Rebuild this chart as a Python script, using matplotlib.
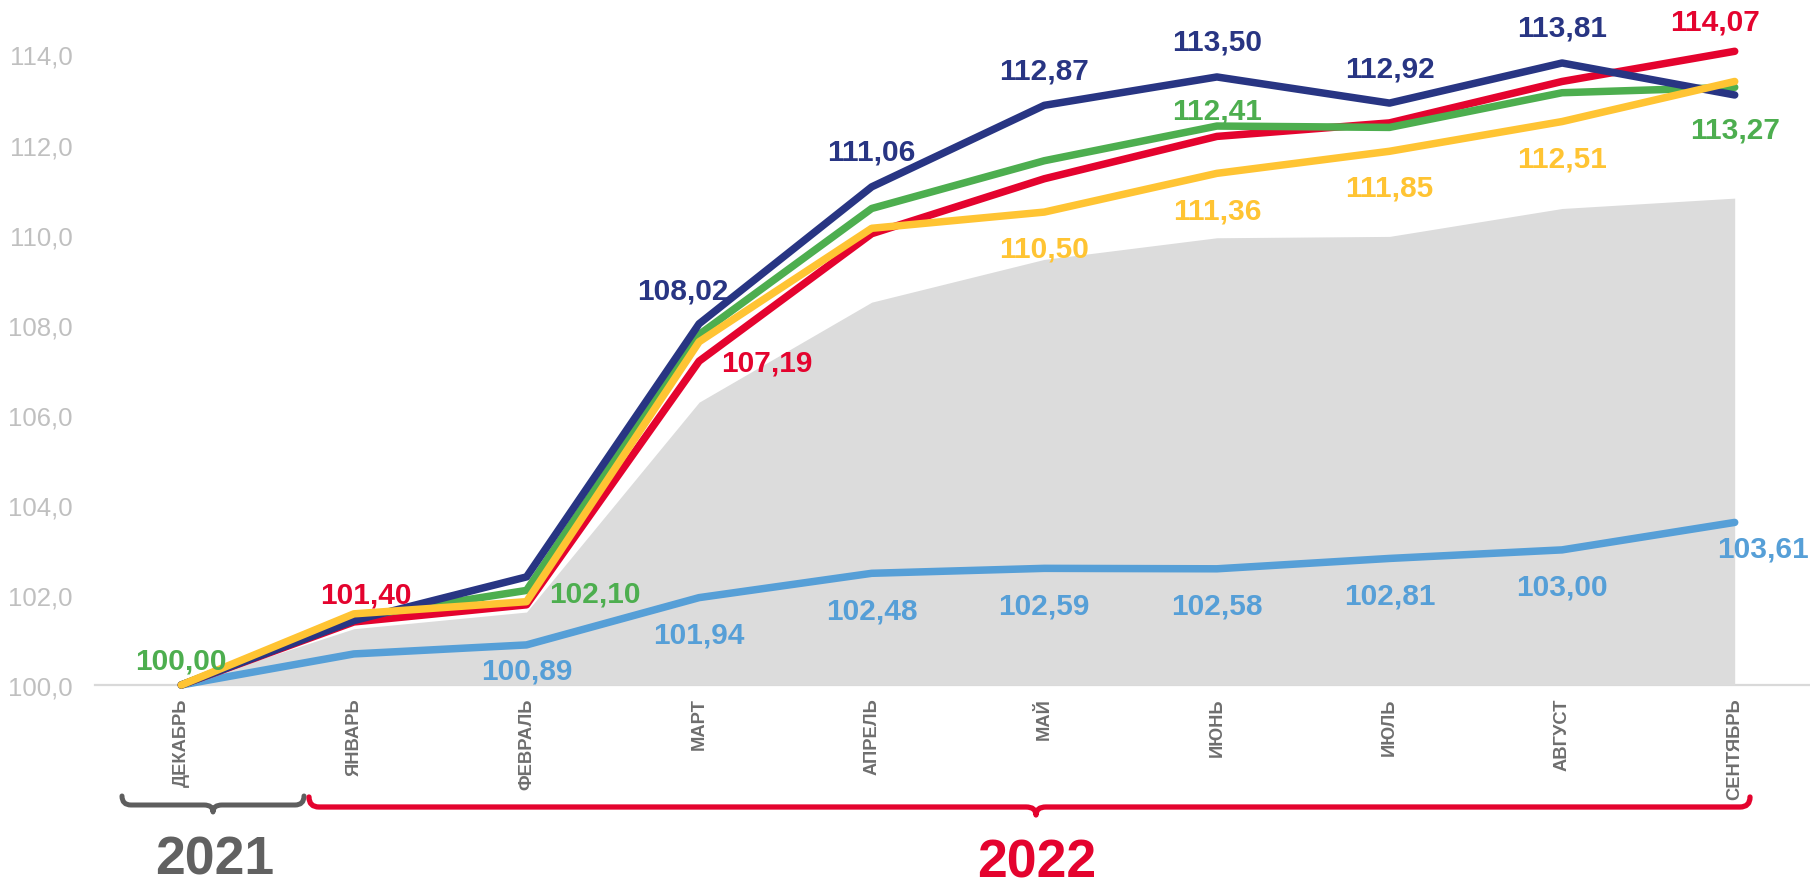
import matplotlib
matplotlib.use("Agg")
import matplotlib.pyplot as plt
from matplotlib.path import Path
from matplotlib.patches import PathPatch

# ---------------- data ----------------
months = ["ДЕКАБРЬ", "ЯНВАРЬ", "ФЕВРАЛЬ", "МАРТ", "АПРЕЛЬ", "МАЙ",
          "ИЮНЬ", "ИЮЛЬ", "АВГУСТ", "СЕНТЯБРЬ"]
navy_vals = [100.00, 101.43, 102.40, 108.02, 111.06, 112.87, 113.50, 112.92, 113.81, 113.10]
red_vals = [100.00, 101.40, 101.78, 107.19, 110.02, 111.24, 112.18, 112.48, 113.40, 114.07]
green_vals = [100.00, 101.50, 102.10, 107.78, 110.58, 111.64, 112.41, 112.38, 113.15, 113.27]
yellow_vals = [100.00, 101.58, 101.85, 107.62, 110.14, 110.50, 111.36, 111.85, 112.51, 113.40]
lblue_vals = [100.00, 100.69, 100.89, 101.94, 102.48, 102.59, 102.58, 102.81, 103.00, 103.61]
area_vals = [100.00, 101.25, 101.62, 106.28, 108.50, 109.45, 109.93, 109.96, 110.58, 110.81]
yticks = [100, 102, 104, 106, 108, 110, 112, 114]

# which points get labels, with offsets in pixels
navy_labels = {3: (-16, 33), 4: (0, 35), 5: (0, 35), 6: (0, 35), 7: (0, 35), 8: (0, 35)}
red_labels = {1: (12, 27), 3: (68, -1), 9: (-20, 30)}
green_labels = {0: (0, 24), 2: (68, -3), 6: (0, 16), 9: (0, -42)}
yellow_labels = {5: (0, -36), 6: (0, -37), 7: (0, -36), 8: (0, -37)}
lblue_labels = {2: (0, -26), 3: (0, -37), 4: (0, -37), 5: (0, -37), 6: (0, -37),
                7: (0, -37), 8: (0, -37), 9: (28, -26)}

C_NAVY = "#283583"
C_RED = "#E4032E"
C_GREEN = "#4DAE4F"
C_YELLOW = "#FFC433"
C_LBLUE = "#569FD7"
C_AREA = "#DCDCDC"

plt.rcParams["font.family"] = ["Liberation Sans", "DejaVu Sans"]

W, H = 1810, 887
fig = plt.figure(figsize=(W / 100, H / 100), dpi=100)

x0_px, y100_px = 95, 686
bin_px = 172.6
ppu = 45.04
ytop = 114.6
ax = fig.add_axes([x0_px / W, (H - y100_px) / H, 10 * bin_px / W, ((ytop - 100) * ppu) / H])
ax.set_xlim(-0.5, 9.5)
ax.set_ylim(100, ytop)

x = list(range(len(months)))
ax.fill_between(x, 100, area_vals, color=C_AREA, lw=0, zorder=1)

lw = 5.4
series = [(lblue_vals, C_LBLUE, lblue_labels),
          (red_vals, C_RED, red_labels),
          (green_vals, C_GREEN, green_labels),
          (navy_vals, C_NAVY, navy_labels),
          (yellow_vals, C_YELLOW, yellow_labels)]
for i, (vals, col, labs) in enumerate(series):
    ax.plot(x, vals, color=col, lw=lw, solid_capstyle="round",
            solid_joinstyle="round", zorder=2 + i, clip_on=False)
    for idx, (dx, dy) in labs.items():
        ax.annotate(f"{vals[idx]:.2f}".replace(".", ","), (idx, vals[idx]),
                    xytext=(dx, dy), textcoords="offset pixels",
                    ha="center", va="center", fontsize=21.5, fontweight="bold",
                    color=col, zorder=20, annotation_clip=False)

for s in ["top", "right", "left"]:
    ax.spines[s].set_visible(False)
ax.spines["bottom"].set_color("#D9D9D9")
ax.spines["bottom"].set_linewidth(1.6)
ax.spines["bottom"].set_zorder(0.5)

ax.set_yticks(yticks)
ax.set_yticklabels([f"{v:.1f}".replace(".", ",") for v in yticks])
ax.tick_params(axis="y", length=0, pad=16, labelsize=18.5, labelcolor="#C0C0C0")
ax.set_xticks(x)
ax.set_xticklabels(months, rotation=90, fontsize=13.2, fontweight="bold", color="#6E6E6E")
ax.tick_params(axis="x", length=0, pad=9)

# ---------------- overlay: braces and years ----------------
ov = fig.add_axes([0, 0, 1, 1], zorder=-1)
ov.set_xlim(0, W)
ov.set_ylim(H, 0)
ov.axis("off")


def brace(xa, xb, xm, y_end, y_flat, y_tip, r, color, lw):
    verts = [(xa, y_end), (xa, y_flat), (xa + r, y_flat),
             (xm - r, y_flat), (xm, y_flat), (xm, y_tip),
             (xm, y_flat), (xm + r, y_flat),
             (xb - r, y_flat), (xb, y_flat), (xb, y_end)]
    codes = [Path.MOVETO, Path.CURVE3, Path.CURVE3,
             Path.LINETO, Path.CURVE3, Path.CURVE3,
             Path.CURVE3, Path.CURVE3,
             Path.LINETO, Path.CURVE3, Path.CURVE3]
    ov.add_patch(PathPatch(Path(verts, codes), fill=False, edgecolor=color,
                           lw=lw, capstyle="round", joinstyle="round"))


brace(122, 304, 213, 797, 806, 813, 9, "#5E5E5E", 3.6)
brace(309, 1750, 1036, 798, 808, 816, 10, C_RED, 3.8)

ov.text(215, 861, "2021", ha="center", va="center", fontsize=38.5,
        fontweight="bold", color="#616161")
ov.text(1037, 864, "2022", ha="center", va="center", fontsize=38.5,
        fontweight="bold", color=C_RED)

fig.savefig("out.png", dpi=100)
